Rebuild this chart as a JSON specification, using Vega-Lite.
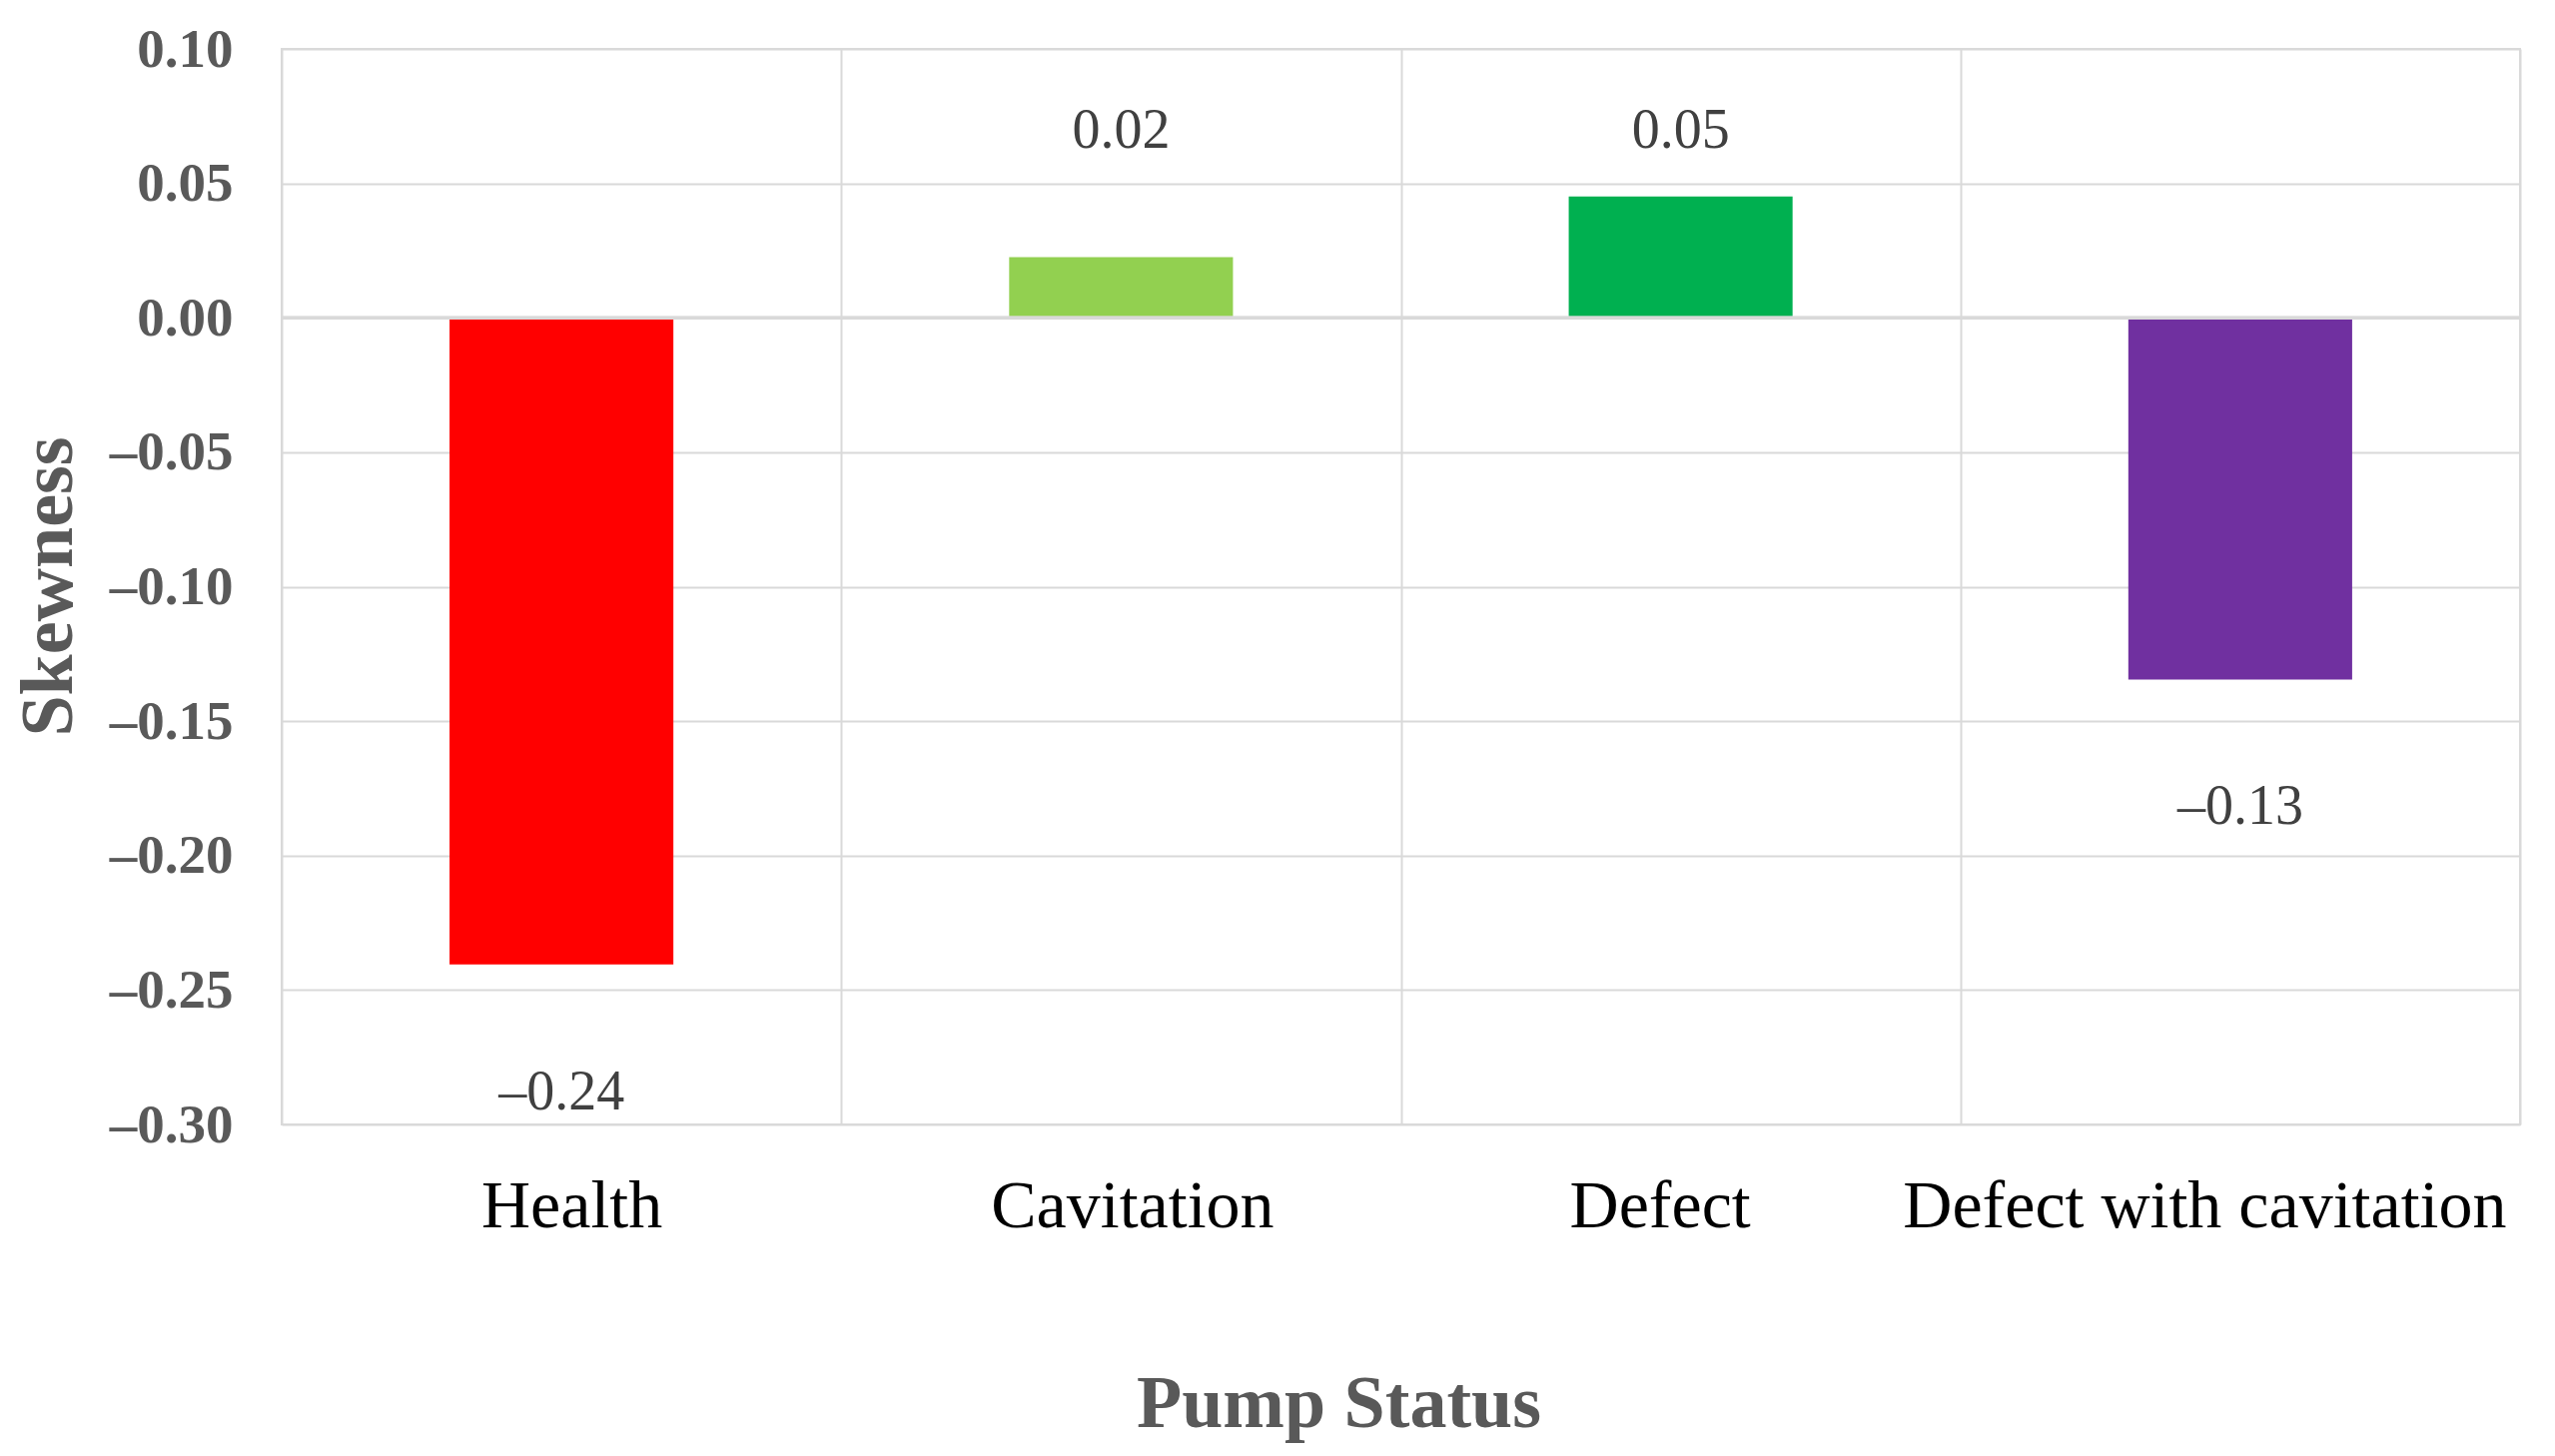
{
  "$schema": "https://vega.github.io/schema/vega-lite/v6.json",
  "width": 2241,
  "height": 1077,
  "autosize": {"type": "none"},
  "padding": {"left": 282, "top": 49, "right": 35, "bottom": 332},
  "background": "white",
  "config": {
    "view": {"stroke": "#d9d9d9", "strokeWidth": 2},
    "font": "Liberation Serif"
  },
  "data": {
    "values": [
      {"status": "Health", "skewness": -0.2405, "label": "–0.24"},
      {"status": "Cavitation", "skewness": 0.0226, "label": "0.02"},
      {"status": "Defect", "skewness": 0.0451, "label": "0.05"},
      {"status": "Defect with cavitation", "skewness": -0.1345, "label": "–0.13"}
    ]
  },
  "encoding": {
    "x": {
      "field": "status",
      "type": "nominal",
      "sort": null,
      "scale": {"paddingInner": 0, "paddingOuter": 0},
      "axis": {
        "title": "Pump Status",
        "labelAngle": 0,
        "labelLimit": 0,
        "labelFont": "Liberation Serif",
        "labelFontSize": 68,
        "labelColor": "#000000",
        "labelPadding": 48,
        "labelOffset": {
          "condition": [
            {"test": "datum.value == 'Health'", "value": 10},
            {"test": "datum.value == 'Cavitation'", "value": 11},
            {"test": "datum.value == 'Defect'", "value": -21},
            {"test": "datum.value == 'Defect with cavitation'", "value": -36}
          ],
          "value": 0
        },
        "ticks": false,
        "domain": false,
        "grid": true,
        "tickBand": "extent",
        "gridColor": "#d9d9d9",
        "gridWidth": 2,
        "titleFont": "Liberation Serif",
        "titleFontSize": 74,
        "titleFontWeight": "bold",
        "titleColor": "#595959",
        "titleX": 1058,
        "titleY": 280,
        "titleBaseline": "middle"
      }
    },
    "y": {
      "field": "skewness",
      "type": "quantitative",
      "scale": {"domain": [-0.3, 0.1], "nice": false},
      "axis": {
        "title": "Skewness",
        "values": [-0.3, -0.25, -0.2, -0.15, -0.1, -0.05, 0, 0.05, 0.1],
        "labelExpr": "(datum.value < 0 ? '–' : '') + format(abs(datum.value), '.2f')",
        "labelFont": "Liberation Serif",
        "labelFontSize": 55,
        "labelFontWeight": "bold",
        "labelColor": "#595959",
        "labelPadding": 49,
        "labelFlush": false,
        "labelOverlap": false,
        "ticks": false,
        "domain": false,
        "grid": true,
        "gridColor": "#d9d9d9",
        "gridWidth": 2,
        "titleFont": "Liberation Serif",
        "titleFontSize": 74,
        "titleFontWeight": "bold",
        "titleColor": "#595959",
        "titleX": -233,
        "titleY": 538,
        "titleBaseline": "middle"
      }
    }
  },
  "layer": [
    {
      "mark": {"type": "bar", "width": {"band": 0.4}},
      "encoding": {
        "color": {
          "field": "status",
          "type": "nominal",
          "scale": {
            "domain": ["Health", "Cavitation", "Defect", "Defect with cavitation"],
            "range": ["#ff0000", "#92d050", "#00b050", "#7030a0"]
          },
          "legend": null
        }
      }
    },
    {
      "mark": {"type": "rule", "stroke": "#d9d9d9", "strokeWidth": 3},
      "encoding": {"y": {"datum": 0}, "x": {"value": 0}, "x2": {"value": 2241}}
    },
    {
      "transform": [{"filter": "datum.skewness >= 0"}],
      "mark": {"type": "text", "baseline": "middle", "fontSize": 56, "color": "#404040", "font": "Liberation Serif"},
      "encoding": {"text": {"field": "label"}, "y": {"datum": 0.0695}}
    },
    {
      "transform": [{"filter": "datum.skewness < 0"}],
      "mark": {"type": "text", "baseline": "middle", "dy": 128, "fontSize": 56, "color": "#404040", "font": "Liberation Serif"},
      "encoding": {"text": {"field": "label"}}
    }
  ]
}
